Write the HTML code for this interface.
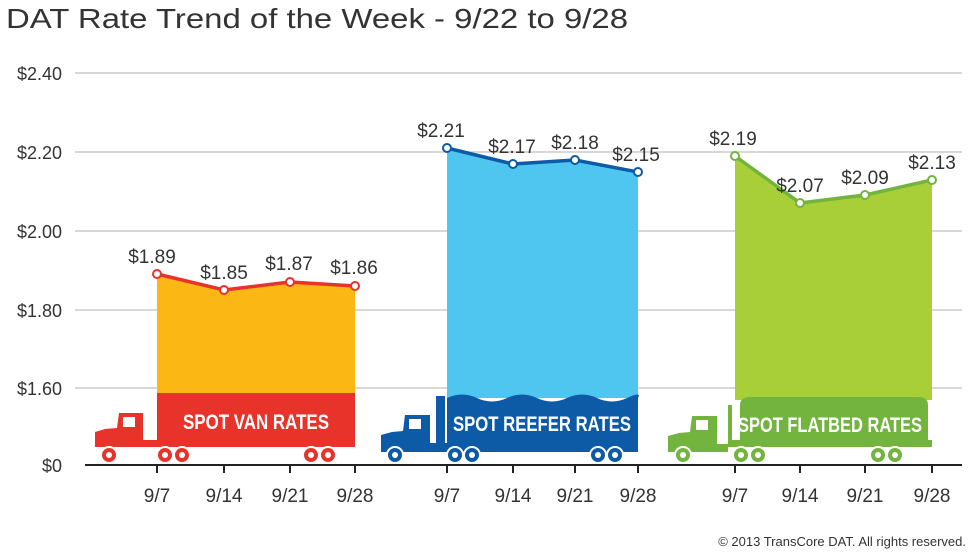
<!DOCTYPE html>
<html><head><meta charset="utf-8"><style>
body{margin:0;background:#fff;}
svg{display:block;font-family:"Liberation Sans Narrow","Liberation Sans",sans-serif;}
</style></head><body>
<svg width="980" height="552" viewBox="0 0 980 552" xmlns="http://www.w3.org/2000/svg">
<text x="6" y="28" font-size="28" fill="#333" textLength="622" lengthAdjust="spacingAndGlyphs">DAT Rate Trend of the Week - 9/22 to 9/28</text>
<g stroke="#ccc" stroke-width="1.5">
<line x1="75" y1="73" x2="962" y2="73"/><line x1="75" y1="152" x2="962" y2="152"/>
<line x1="75" y1="231" x2="962" y2="231"/><line x1="75" y1="310" x2="962" y2="310"/>
<line x1="75" y1="388" x2="962" y2="388"/>
</g>
<g font-size="18" fill="#333" text-anchor="end">
<text x="62" y="80">$2.40</text><text x="62" y="159">$2.20</text><text x="62" y="238">$2.00</text>
<text x="62" y="317">$1.80</text><text x="62" y="395">$1.60</text><text x="62" y="472">$0</text>
</g>
<!-- fills -->
<polygon points="157,274 224,290 290,282 355,286 355,395 157,395" fill="#fbb714"/>
<polygon points="447,148 513,164 575,160 638,172 638,398 447,398" fill="#4fc6ef"/>
<polygon points="735,156 800,203 865,195 932,180 932,400 735,400" fill="#a8cf38"/>
<!-- van truck -->
<g fill="#e8332a">
<rect x="157" y="393" width="198" height="54"/>
<path d="M95,447 L95,432 L105,429 L117,428 L119,413 L143,413 L143,440 L157,440 L157,447 Z"/>
</g>
<rect x="123" y="417" width="12" height="10" fill="#fff"/>
<!-- reefer -->
<g fill="#0d5aa7">
<path d="M447,398 q15,-7 30,0 t30,0 t30,0 t30,0 t30,0 t30,0 t11,0 L638,452 L447,452 Z"/>
<rect x="436" y="396" width="9" height="52"/>
<path d="M381,452 L381,435 L392,432 L403,431 L405,415 L430,415 L430,443 L447,443 L447,452 Z"/>
</g>
<rect x="409" y="419" width="12" height="10" fill="#fff"/>
<!-- flatbed -->
<g fill="#72b43e">
<path d="M740,440 L740,405 q0,-8 10,-8 L918,397 q10,0 10,8 L928,440 Z"/>
<rect x="728" y="440" width="204" height="7"/>
<rect x="728" y="405" width="4" height="40"/>
<path d="M668,452 L668,436 L679,433 L690,432 L692,416 L717,416 L717,444 L728,444 L728,452 Z"/>
</g>
<rect x="696" y="420" width="12" height="10" fill="#fff"/>
<g font-size="21" font-weight="bold" fill="#fff" text-anchor="middle">
<text x="256" y="429" textLength="146" lengthAdjust="spacingAndGlyphs">SPOT VAN RATES</text>
<text x="542" y="431" textLength="178" lengthAdjust="spacingAndGlyphs">SPOT REEFER RATES</text>
<text x="830" y="432" textLength="184" lengthAdjust="spacingAndGlyphs">SPOT FLATBED RATES</text>
</g>
<!-- wheels -->
<g stroke="#fff" stroke-width="2">
<g fill="#e8332a"><circle cx="109" cy="455" r="8"/><circle cx="165" cy="455" r="8"/><circle cx="182" cy="455" r="8"/><circle cx="311" cy="455" r="8"/><circle cx="328" cy="455" r="8"/></g>
<g fill="#0d5aa7"><circle cx="395" cy="455" r="8"/><circle cx="455" cy="455" r="8"/><circle cx="472" cy="455" r="8"/><circle cx="598" cy="455" r="8"/><circle cx="615" cy="455" r="8"/></g>
<g fill="#72b43e"><circle cx="683" cy="455" r="8"/><circle cx="741" cy="455" r="8"/><circle cx="758" cy="455" r="8"/><circle cx="878" cy="455" r="8"/><circle cx="895" cy="455" r="8"/></g>
</g>
<g fill="#fff"><circle cx="109" cy="455" r="3"/><circle cx="165" cy="455" r="3"/><circle cx="182" cy="455" r="3"/><circle cx="311" cy="455" r="3"/><circle cx="328" cy="455" r="3"/>
<circle cx="395" cy="455" r="3"/><circle cx="455" cy="455" r="3"/><circle cx="472" cy="455" r="3"/><circle cx="598" cy="455" r="3"/><circle cx="615" cy="455" r="3"/>
<circle cx="683" cy="455" r="3"/><circle cx="741" cy="455" r="3"/><circle cx="758" cy="455" r="3"/><circle cx="878" cy="455" r="3"/><circle cx="895" cy="455" r="3"/></g>
<!-- lines -->
<polyline points="157,274 224,290 290,282 355,286" fill="none" stroke="#e8332a" stroke-width="3.5"/>
<polyline points="447,148 513,164 575,160 638,172" fill="none" stroke="#0d5aa7" stroke-width="3.5"/>
<polyline points="735,156 800,203 865,195 932,180" fill="none" stroke="#72b43e" stroke-width="3.5"/>
<g fill="#fff" stroke-width="2">
<g stroke="#e8332a"><circle cx="157" cy="274" r="4"/><circle cx="224" cy="290" r="4"/><circle cx="290" cy="282" r="4"/><circle cx="355" cy="286" r="4"/></g>
<g stroke="#0d5aa7"><circle cx="447" cy="148" r="4"/><circle cx="513" cy="164" r="4"/><circle cx="575" cy="160" r="4"/><circle cx="638" cy="172" r="4"/></g>
<g stroke="#72b43e"><circle cx="735" cy="156" r="4"/><circle cx="800" cy="203" r="4"/><circle cx="865" cy="195" r="4"/><circle cx="932" cy="180" r="4"/></g>
</g>
<g font-size="19" fill="#333" text-anchor="middle">
<text x="152" y="263">$1.89</text><text x="224" y="279">$1.85</text><text x="289" y="270">$1.87</text><text x="354" y="274">$1.86</text>
<text x="441" y="137">$2.21</text><text x="512" y="153">$2.17</text><text x="575" y="149">$2.18</text><text x="636" y="161">$2.15</text>
<text x="733" y="145">$2.19</text><text x="800" y="192">$2.07</text><text x="865" y="184">$2.09</text><text x="932" y="169">$2.13</text>
</g>
<!-- axis -->
<line x1="85" y1="465" x2="962" y2="465" stroke="#222" stroke-width="2"/>
<g stroke="#222" stroke-width="2">
<line x1="157" y1="465" x2="157" y2="473"/><line x1="224" y1="465" x2="224" y2="473"/><line x1="290" y1="465" x2="290" y2="473"/><line x1="355" y1="465" x2="355" y2="473"/>
<line x1="447" y1="465" x2="447" y2="473"/><line x1="513" y1="465" x2="513" y2="473"/><line x1="575" y1="465" x2="575" y2="473"/><line x1="638" y1="465" x2="638" y2="473"/>
<line x1="735" y1="465" x2="735" y2="473"/><line x1="800" y1="465" x2="800" y2="473"/><line x1="865" y1="465" x2="865" y2="473"/><line x1="932" y1="465" x2="932" y2="473"/>
</g>
<g font-size="19" fill="#333" text-anchor="middle">
<text x="157" y="502">9/7</text><text x="224" y="502">9/14</text><text x="290" y="502">9/21</text><text x="355" y="502">9/28</text>
<text x="447" y="502">9/7</text><text x="513" y="502">9/14</text><text x="575" y="502">9/21</text><text x="638" y="502">9/28</text>
<text x="735" y="502">9/7</text><text x="800" y="502">9/14</text><text x="865" y="502">9/21</text><text x="932" y="502">9/28</text>
</g>
<text x="966" y="546" font-size="13" fill="#333" text-anchor="end" font-family="Liberation Sans,sans-serif">© 2013 TransCore DAT. All rights reserved.</text>
</svg>
</body></html>
